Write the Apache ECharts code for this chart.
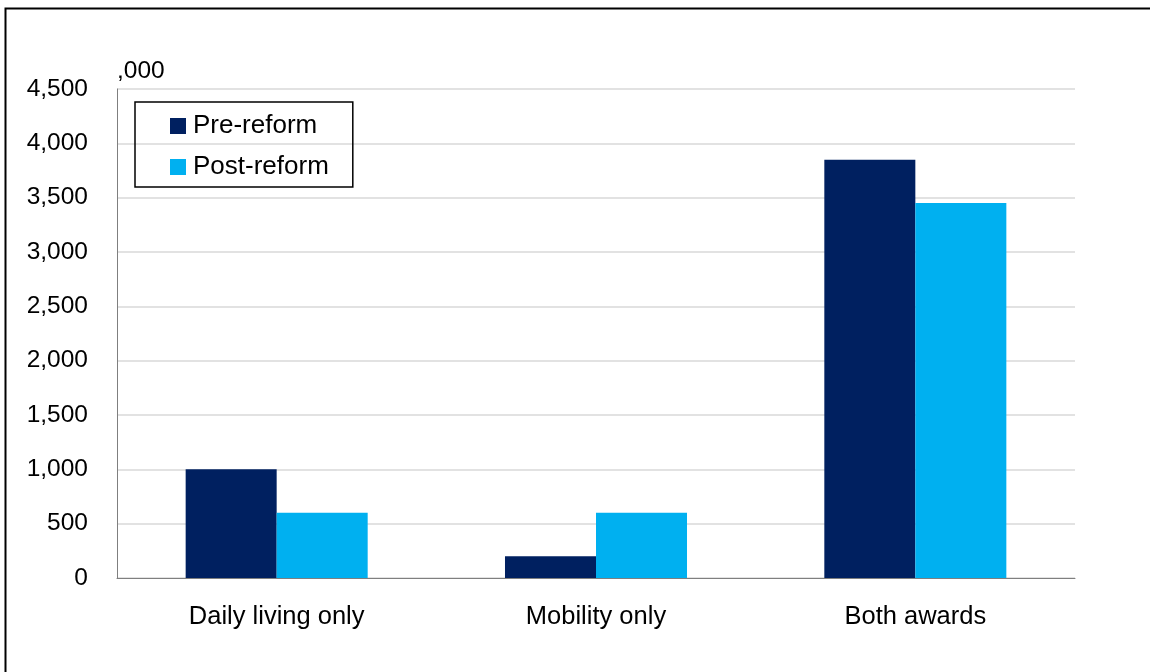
<!DOCTYPE html>
<html>
<head>
<meta charset="utf-8">
<script src="https://cdn.jsdelivr.net/npm/echarts@6/dist/echarts.min.js"></script>
<style>
html,body{margin:0;padding:0;background:#fff;}
#chart{width:1150px;height:672px;}
</style>
</head>
<body>
<div id="chart"></div>
<script>
const categories = ['Daily living only', 'Mobility only', 'Both awards'];
const preReform = [1000, 200, 3850];
const postReform = [600, 600, 3450];
const yTicks = [0, 500, 1000, 1500, 2000, 2500, 3000, 3500, 4000, 4500];

const FONT = '"Liberation Sans", "DejaVu Sans", sans-serif';
const chart = echarts.init(document.getElementById('chart'), null, {renderer: 'canvas'});
chart.setOption({
  animation: false,
  backgroundColor: '#fff',
  textStyle: {fontFamily: FONT},
  graphic: [
    {type: 'rect', left: 3, top: 6, shape: {x: 0, y: 0, width: 1200, height: 700},
     style: {fill: 'none', stroke: '#000', lineWidth: 2}, silent: true, z: 100},
    {type: 'text', left: 117, top: 59, style: {text: ',000', font: '24.5px ' + FONT, fill: '#000'}}
  ],
  grid: {left: 117, right: 75, top: 89, bottom: 94},
  legend: {
    left: 135, top: 102, orient: 'vertical',
    padding: [11, 24, 7, 35],
    borderColor: '#000', borderWidth: 1.5,
    itemWidth: 16, itemHeight: 16, itemGap: 15,
    icon: 'rect',
    textStyle: {fontSize: 26, color: '#000', fontFamily: FONT, padding: [0, 0, 0, 2]},
    data: ['Pre-reform', 'Post-reform']
  },
  xAxis: {
    type: 'category', data: categories,
    axisLine: {lineStyle: {color: '#7f7f7f', width: 1}},
    axisTick: {show: false},
    axisLabel: {fontSize: 25.5, color: '#000', margin: 26, fontFamily: FONT}
  },
  yAxis: {
    type: 'value', min: 0, max: 4500, interval: 500,
    axisLine: {show: true, lineStyle: {color: '#7f7f7f', width: 1}},
    axisTick: {show: false},
    splitLine: {lineStyle: {color: '#d9d9d9', width: 1.5}},
    axisLabel: {fontSize: 24.5, color: '#000', margin: 29, fontFamily: FONT,
      formatter: v => v.toLocaleString('en-US')}
  },
  series: [
    {name: 'Pre-reform', type: 'bar', data: preReform, barGap: '0%', barCategoryGap: '43%',
     itemStyle: {color: '#002060'}},
    {name: 'Post-reform', type: 'bar', data: postReform,
     itemStyle: {color: '#00b0f0'}}
  ]
});
</script>
</body>
</html>
